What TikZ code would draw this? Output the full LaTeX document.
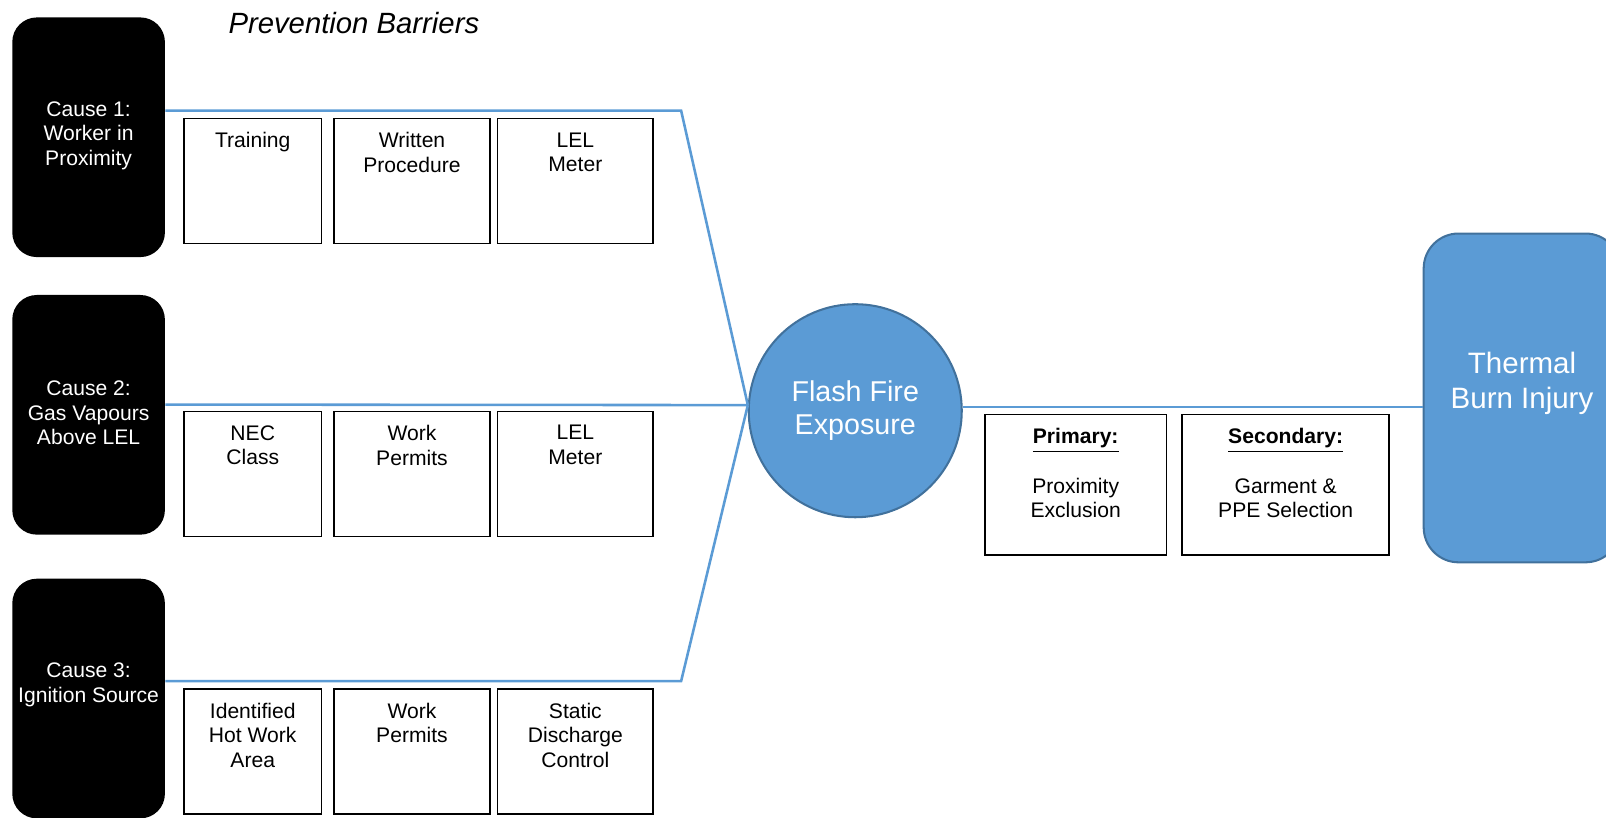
\documentclass[tikz,border=0pt]{standalone}
\usepackage{fontspec}
\setmainfont{Liberation Sans}
\usetikzlibrary{positioning, calc}
\definecolor{fireblue}{HTML}{5B9BD5}
\definecolor{fireedge}{HTML}{41719C}
\newcommand{\smallfont}{\fontsize{10.3}{12}\selectfont}
\newcommand{\bigfont}{\fontsize{14}{16}\selectfont}

\tikzset{
    cause/.style={fill=black, rounded corners=12pt, minimum width=74.5pt, minimum height=117pt, inner sep=0pt},
    causetext/.style={text=white, align=center, font=\smallfont, inner sep=0pt},
    barrier/.style={draw, line width=0.75pt, minimum height=61pt, inner sep=0pt, anchor=north west},
    bartext/.style={align=center, font=\smallfont, inner sep=0pt},
    link/.style={draw=fireblue, line width=1.25pt},
}

\begin{document}
\begin{tikzpicture}[x=0.5pt, y=-0.5pt]
    \useasboundingbox (0,0) rectangle (1568,798);

    \node[font=\fontsize{14.3}{16}\selectfont\itshape] (title) at (345.5,22) {Prevention Barriers};

    % causes
    \node[cause] (c1) at (86.5,134) {};
    \node[cause] (c2) at (86.5,405) {};
    \node[cause] (c3) at (86.5,682) {};
    \node[causetext, below=41pt of c1.north] (t1) {Cause 1:\\Worker in\\Proximity};
    \node[causetext, below=42pt of c2.north] (t2) {Cause 2:\\Gas Vapours\\Above LEL};
    \node[causetext, below=41pt of c3.north] (t3) {Cause 3:\\Ignition Source};

    % prevention barriers
    \node[barrier, minimum width=67pt] (b11) at (179,115) {};
    \node[barrier, minimum width=76pt] (b12) [right=5.5pt of b11] {};
    \node[barrier, minimum width=76pt] (b13) [right=3pt of b12] {};
    \node[barrier, minimum width=67pt] (b21) at (179,401) {};
    \node[barrier, minimum width=76pt] (b22) [right=5.5pt of b21] {};
    \node[barrier, minimum width=76pt] (b23) [right=3pt of b22] {};
    \node[barrier, minimum width=67pt] (b31) at (179,672) {};
    \node[barrier, minimum width=76pt] (b32) [right=5.5pt of b31] {};
    \node[barrier, minimum width=76pt] (b33) [right=3pt of b32] {};

    \node[bartext, below=7pt of b11.north] {Training};
    \node[bartext, below=7pt of b12.north] {Written\\Procedure};
    \node[bartext, below=7pt of b13.north] {LEL\\Meter};
    \node[bartext, below=7pt of b21.north] {NEC\\Class};
    \node[bartext, below=7pt of b22.north] {Work\\Permits};
    \node[bartext, below=7pt of b23.north] {LEL\\Meter};
    \node[bartext, below=7pt of b31.north] {Identified\\Hot Work\\Area};
    \node[bartext, below=7pt of b32.north] {Work\\Permits};
    \node[bartext, below=7pt of b33.north] {Static\\Discharge\\Control};

    % top event and consequence
    \node[circle, fill=fireblue, draw=fireedge, line width=1pt, minimum size=104pt,
          text=white, align=center, font=\bigfont] (ff) at (835,401) {Flash Fire\\Exposure};
    \node[fill=fireblue, draw=fireedge, line width=1pt, rounded corners=17pt,
          minimum width=96pt, minimum height=160.5pt] (tb) at (1486,388.5) {};
    \node[text=white, align=center, font=\fontsize{14.4}{17}\selectfont, inner sep=0pt]
          (tbt) at ([yshift=7pt]tb.center) {Thermal\\Burn Injury};

    % mitigation barriers
    \node[barrier, minimum width=88.5pt, minimum height=68.5pt] (m1) at (961,404) {};
    \node[barrier, minimum width=101pt, minimum height=68.5pt] (m2) [right=7pt of m1] {};
    \node[bartext, below=7pt of m1.north] {\underline{\textbf{Primary:}}\\[12pt]Proximity\\Exclusion};
    \node[bartext, below=7pt of m2.north] {\underline{\textbf{Secondary:}}\\[12pt]Garment \&\\PPE Selection};

    % connectors
    \coordinate (k1) at (665,108);
    \coordinate (k3) at (665,665);
    \draw[link] ([yshift=13pt]c1.east) -- (k1) -- (ff.177);
    \draw[link] ([yshift=5pt]c2.east) -- (ff.177);
    \draw[link] ([yshift=8.5pt]c3.east) -- (k3) -- (ff.177);
    \draw[link] (ff.2) -- (ff.2 -| tb.west);
\end{tikzpicture}
\end{document}
